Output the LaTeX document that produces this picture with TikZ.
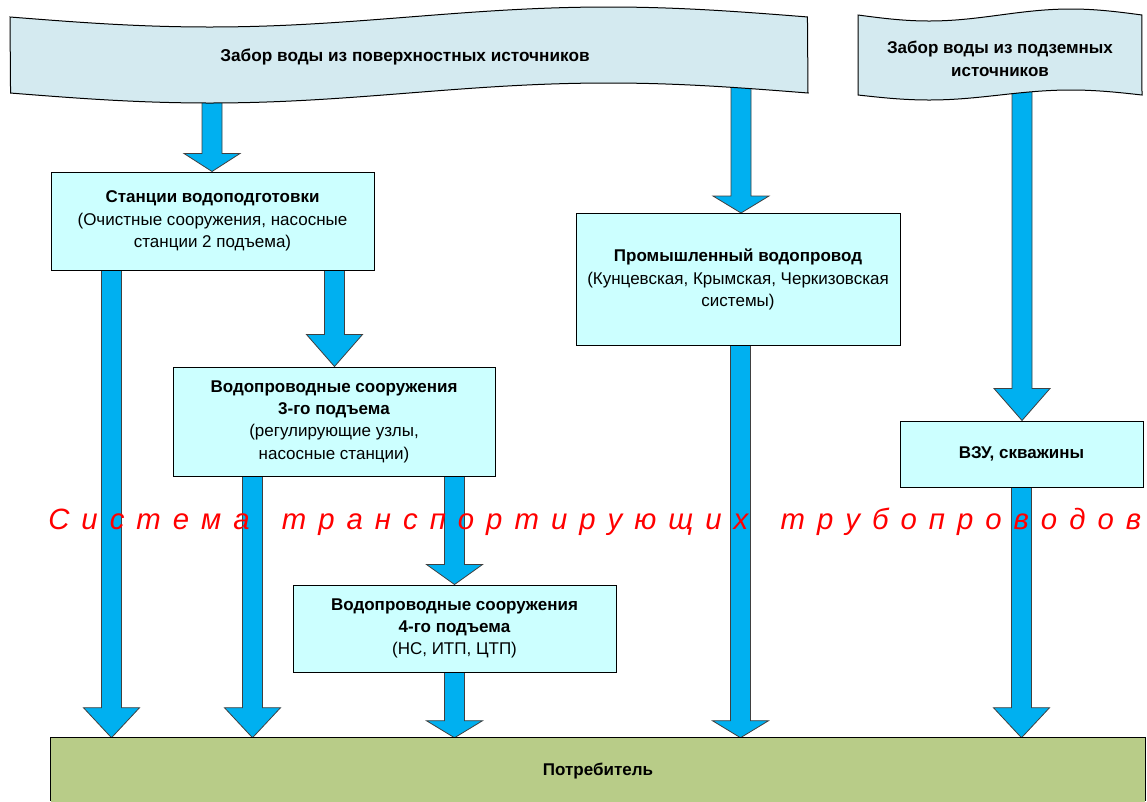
\documentclass[tikz,border=0pt]{standalone}
\usepackage{fontspec}
\setmainfont{Liberation Sans}
\usetikzlibrary{calc}
\pgfdeclarelayer{bg}
\pgfsetlayers{bg,main}
\definecolor{arrowblue}{HTML}{00B0F0}
\definecolor{boxcyan}{HTML}{CCFFFF}
\definecolor{bannerfill}{HTML}{D4EAF0}
\definecolor{consgreen}{HTML}{B8CC88}
\newcommand\gp{\hspace{0pt plus 1fil}}
\tikzset{
  box/.style={draw=black, line width=0.75pt, fill=boxcyan, align=center, inner sep=0pt,
    font=\fontsize{12.75pt}{16.75pt}\selectfont},
  barrow/.style={draw=black!75, line width=0.6pt, fill=arrowblue},
  blockto/.style={to path={let \p1=(\tikztostart), \p2=(\tikztotarget) in
    (\x1-7.5pt,\y1) -- (\x1-7.5pt,\y2+#1) -- (\x1-21pt,\y2+#1) -- (\x1,\y2)
    -- (\x1+21pt,\y2+#1) -- (\x1+7.5pt,\y2+#1) -- (\x1+7.5pt,\y1) -- cycle}},
  bannerst/.style={draw=black, line width=0.75pt, fill=bannerfill},
}
\begin{document}
\begin{tikzpicture}[x=0.75pt,y=-0.75pt]
\useasboundingbox (0,0) rectangle (1147,801);
\coordinate (bot) at (0,801);
% banners
\draw[bannerst] plot[domain=0:1,samples=80,smooth] ({10+798*\x},{17+10*sin(360*\x)})
  -- plot[domain=1:0,samples=80,smooth] ({10+798*\x},{93+10*sin(360*\x)}) -- cycle;
\node[font=\bfseries\fontsize{12.9pt}{16pt}\selectfont] (src1) at (405,57)
  {Забор воды из поверхностных источников};
\draw[bannerst] plot[domain=0:1,samples=60,smooth] ({858+284*\x},{15+6*sin(360*\x)})
  -- plot[domain=1:0,samples=60,smooth] ({858+284*\x},{95+5*sin(360*\x)}) -- cycle;
\node[align=center, font=\bfseries\fontsize{12.75pt}{17.25pt}\selectfont] (src2) at (1000,59)
  {Забор воды из подземных\\источников};
% boxes
\node[box, minimum width=242.25pt, minimum height=73.5pt] (b1) at (212.5,221)
  {\textbf{Станции водоподготовки}\\(Очистные сооружения, насосные\\станции 2 подъема)};
\node[box, minimum width=243pt, minimum height=99pt] (b2) at (738,279.5)
  {\textbf{Промышленный водопровод}\\(Кунцевская, Крымская, Черкизовская\\системы)};
\node[box, minimum width=241.5pt, minimum height=81.75pt] (b3) at (334,421.5)
  {\textbf{Водопроводные сооружения}\\\textbf{3-го подъема}\\(регулирующие узлы,\\насосные станции)};
\node[box, minimum width=242.25pt, minimum height=65.25pt] (b4) at (454.5,628.5)
  {\textbf{Водопроводные сооружения}\\\textbf{4-го подъема}\\(НС, ИТП, ЦТП)};
\node[box, minimum width=182.25pt, minimum height=49.5pt] (b5) at (1021.5,454)
  {\textbf{ВЗУ, скважины}};
\node[fill=consgreen, inner sep=0pt, minimum width=820.5pt, minimum height=50.25pt,
  font=\bfseries\fontsize{12.75pt}{14pt}\selectfont] (cons) at (598,771.5) {Потребитель};
\draw[line width=0.75pt] (cons.north west |- bot) -- (cons.north west) -- (cons.north east) -- (cons.north east |- bot);
% arrow start points
\coordinate (a1s) at (212,96);
\coordinate (a2s) at (741,82);
\coordinate (a3s) at ($(b1.south west)+(61,-3)$);
\coordinate (a4s) at ($(b1.south west)+(284,-3)$);
\coordinate (a5s) at ($(b3.south west)+(80,-3)$);
\coordinate (a6s) at ($(b3.south west)+(282,-3)$);
\coordinate (a7s) at ($(b4.south west)+(162,-3)$);
\coordinate (a8s) at ($(b2.south west)+(165,-3)$);
\coordinate (a9s) at (1022,86);
\coordinate (a10s) at ($(b5.south west)+(122,-3)$);
\begin{pgfonlayer}{bg}
\draw[barrow] (a1s) to[blockto=13.5pt] (b1.north);
\draw[barrow] (a2s) to[blockto=12.75pt] (b2.north);
\draw[barrow] (a3s) to[blockto=22.5pt] (cons.north);
\draw[barrow] (a4s) to[blockto=24pt] (b3.north);
\draw[barrow] (a5s) to[blockto=22.5pt] (cons.north);
\draw[barrow] (a6s) to[blockto=15pt] (b4.north);
\draw[barrow] (a7s) to[blockto=12.75pt] (cons.north);
\draw[barrow] (a8s) to[blockto=12.75pt] (cons.north);
\draw[barrow] (a9s) to[blockto=24pt] (b5.north);
\draw[barrow] (a10s) to[blockto=22.5pt] (cons.north);
\end{pgfonlayer}
% red label
\node[anchor=base west, inner sep=0pt, text=red, font=\itshape\fontsize{22pt}{24pt}\selectfont] (sys) at (48,529)
  {\makebox[819.75pt][s]{С\gp и\gp с\gp т\gp е\gp м\gp а\gp\ \gp т\gp р\gp а\gp н\gp с\gp п\gp о\gp р\gp т\gp и\gp р\gp у\gp ю\gp щ\gp и\gp х\gp\ \gp т\gp р\gp у\gp б\gp о\gp п\gp р\gp о\gp в\gp о\gp д\gp о\gp в}};
\end{tikzpicture}
\end{document}
